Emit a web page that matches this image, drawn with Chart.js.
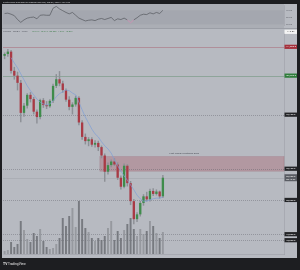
<!DOCTYPE html>
<html>
<head>
<meta charset="utf-8">
<script src="https://cdn.jsdelivr.net/npm/chart.js@4.4.1/dist/chart.umd.min.js"></script>
<style>
  html, body { margin: 0; padding: 0; background: #1d1e21; }
  #wrap { position: relative; width: 300px; height: 270px; overflow: hidden; }
  #rsiBox { position: absolute; left: 0; top: 0; width: 300px; height: 29px; }
  #mainBox { position: absolute; left: 0; top: 29px; width: 300px; height: 241px; }
</style>
</head>
<body>
<div id="wrap">
  <div id="rsiBox"><canvas id="rsiChart"></canvas></div>
  <div id="mainBox"><canvas id="priceChart"></canvas></div>
</div>
<script>
// 12h candles
const candleOpen = [109500,109800,110200,107000,106200,105000,100000,101200,103000,102300,
  100200,99300,102100,101300,101100,102000,104500,105600,104900,103800,
  102200,101000,101400,102500,98400,96000,95300,95600,94700,95000,
  94300,92900,90200,91300,91900,91400,89200,87700,91200,88300,
  85300,82300,83100,85000,86100,85600,87000,86500,86900,86100];
const candleHigh = [110000,110600,110400,107600,106800,105400,101600,103200,103400,102600,
  100500,102300,102400,101900,102200,104800,106400,106900,105300,104000,
  102700,101700,102800,102700,98700,96500,95900,95900,95400,95300,
  94500,93200,91700,92200,92400,91700,89500,91500,91400,88600,
  85600,83400,85300,86400,86800,87300,87400,87200,87000,89600];
const candleLow = [109000,109400,106600,105600,103800,98500,99400,100800,101800,99800,
  98300,99000,100900,100700,100900,101700,104200,104500,103400,101900,
  100500,99800,101100,98000,95600,94800,94500,94400,94300,93700,
  92500,88600,89800,91000,91200,88900,87300,87500,87800,84700,
  81500,81900,82800,84600,85300,85300,86200,86300,85800,85900];
const candleClose = [109800,110200,107000,106200,105000,100000,101200,103000,102300,100200,
  99300,102100,101300,101100,102000,104500,105600,104900,103800,102200,
  101000,101400,102500,98400,96000,95300,95600,94700,95000,94300,
  92900,90200,91300,91900,91400,89200,87700,91200,88300,85300,
  82300,83100,85000,86100,85600,87000,86500,86900,86100,89200];
const volume = [3,4,12,7,10,33,24,15,12,21,
  18,25,13,7,5,6,10,16,36,28,
  38,46,27,53,35,26,22,16,13,16,
  14,18,26,33,14,23,16,24,30,36,
  25,18,25,20,23,33,28,21,16,22];
const sma = [null,null,109200,108300,107500,106500,105500,104500,103700,103000,
  102300,101800,101500,101300,101500,102000,102700,103200,103500,103800,
  103700,103300,103000,101800,100500,99300,98300,97300,96500,96000,
  95200,94500,94000,93300,92200,91200,90300,89500,88800,88000,
  87200,86300,85700,85300,85300,85500,85700,85800,85800,86000];
const rsi = [61,62,59,55,44,36,43,48,50,51,
  46,56,57,56,56,76,81,74,69,64,
  60,64,56,48,44,40,42,43,41,45,
  47,44,47,50,41,46,44,48,43,35,
  43,49,56,59,58,63,60,64,61,70];
const futureSlots = 37;
const xTickLabels = ['Feb','3','5','7','9','11','13','15','17','19','21','23','25','27','Mar','3','5','7','9','11','13'];
const rsiTicks = [30, 50, 70];
const keyLevels = [111000, 106200, 99700, 90700, 85500, 79800, 78800];
const topMarker = 113500;
const zoneTop = 92700, zoneBottom = 90300, zoneStart = 30;
const zoneText = 'First crucial resistance zone';

const UP = '#3f8c4b', DOWN = '#a93a45';
const slots = candleOpen.length + futureSlots;
const slotLabels = Array.from({ length: slots }, (_, i) => i);
const isUp = candleOpen.map((o, i) => candleClose[i] >= o);
const fmt = v => v.toLocaleString('en-US', { minimumFractionDigits: 1, maximumFractionDigits: 1 });

function box(ctx, x, y, w, h, bg, lines, fg) {
  ctx.fillStyle = bg;
  ctx.fillRect(x, y - h / 2, w, h);
  ctx.fillStyle = fg;
  ctx.font = '2.4px Roboto';
  ctx.textAlign = 'center';
  ctx.textBaseline = 'middle';
  const step = h / lines.length;
  lines.forEach((t, k) => ctx.fillText(t, x + w / 2, y - h / 2 + step * (k + 0.5)));
}

const mainDecor = {
  id: 'mainDecor',
  beforeDraw(chart) {
    const ctx = chart.ctx;
    ctx.save();
    ctx.fillStyle = '#1d1e21';
    ctx.fillRect(0, 0, chart.width, chart.height);
    ctx.fillStyle = '#b7bac1';
    ctx.fillRect(2, 0, 295, 229);
    ctx.font = '2.4px Roboto';
    ctx.textBaseline = 'middle';
    ctx.fillStyle = '#5b5e66';
    ctx.fillText('Volume · SMA 9 · close', 3, 2.6);
    ctx.fillStyle = '#3f7d4a';
    ctx.fillText('46.21K  46.21K  89.20K  1.07K  12.07K', 32, 2.6);
    ctx.fillStyle = '#e8e8e8';
    ctx.font = 'bold 3.4px Roboto';
    ctx.fillText('TV', 3, 235);
    ctx.font = '3.2px Roboto';
    ctx.fillText('TradingView', 8, 235);
    ctx.restore();
  },
  beforeDatasetsDraw(chart) {
    const { ctx, chartArea: a, scales: { x, y } } = chart;
    const half = (x.getPixelForValue(1) - x.getPixelForValue(0)) / 2;
    ctx.save();
    // resistance zone
    const zt = y.getPixelForValue(zoneTop), zb = y.getPixelForValue(zoneBottom);
    const zx = x.getPixelForValue(zoneStart) - half;
    ctx.fillStyle = 'rgba(170, 92, 106, 0.36)';
    ctx.fillRect(zx, zt, a.right - zx, zb - zt);
    ctx.strokeStyle = 'rgba(150, 70, 85, 0.4)';
    ctx.lineWidth = 0.5;
    ctx.strokeRect(zx, zt, a.right - zx, zb - zt);
    ctx.fillStyle = '#4c4f57';
    ctx.font = '2.4px Roboto';
    ctx.textBaseline = 'bottom';
    ctx.fillText(zoneText, x.getPixelForValue(51), zt - 2);
    // key levels
    keyLevels.forEach((v, i) => {
      const py = Math.round(y.getPixelForValue(v)) + 0.5;
      ctx.beginPath();
      if (i === 0) { ctx.strokeStyle = 'rgba(165, 80, 95, 0.5)'; ctx.setLineDash([]); ctx.lineWidth = 0.8; }
      else if (i === 1) { ctx.strokeStyle = 'rgba(80, 135, 95, 0.5)'; ctx.setLineDash([]); ctx.lineWidth = 0.8; }
      else { ctx.strokeStyle = 'rgba(85, 88, 96, 0.75)'; ctx.setLineDash([1, 1]); ctx.lineWidth = 0.5; }
      ctx.moveTo(a.left, py);
      ctx.lineTo(a.right, py);
      ctx.stroke();
    });
    // last price line
    const last = candleClose[candleClose.length - 1];
    const ly = Math.round(y.getPixelForValue(last)) + 0.5;
    ctx.setLineDash([]);
    ctx.strokeStyle = 'rgba(150, 153, 160, 0.7)';
    ctx.lineWidth = 0.5;
    ctx.beginPath();
    ctx.moveTo(a.left, ly);
    ctx.lineTo(a.right, ly);
    ctx.stroke();
    ctx.restore();
  },
  afterDraw(chart) {
    const { ctx, chartArea: a, scales: { y } } = chart;
    const bx = a.right + 0.5, bw = 12.5;
    const colors = ['#a5303b', '#2f7d3b', '#232427', '#232427', '#232427', '#232427', '#232427'];
    ctx.save();
    keyLevels.forEach((v, i) => box(ctx, bx, y.getPixelForValue(v), bw, 4.2, colors[i], [fmt(v)], '#f2f2f2'));
    box(ctx, bx, y.getPixelForValue(topMarker), bw, 4.2, '#f4f4f4', ['113.5K'], '#333');
    const last = candleClose[candleClose.length - 1];
    box(ctx, bx, y.getPixelForValue(last), bw, 7, '#5a5d64', [fmt(last), '05:12:33'], '#f2f2f2');
    ctx.restore();
  }
};

new Chart(document.getElementById('priceChart'), {
  type: 'bar',
  data: {
    labels: slotLabels,
    datasets: [
      {
        type: 'line', data: sma, borderColor: '#7f9fd6', borderWidth: 0.7,
        pointRadius: 0, yAxisID: 'y', order: 1
      },
      {
        data: candleOpen.map((o, i) => [o, candleClose[i]]),
        backgroundColor: isUp.map(u => u ? UP : DOWN),
        barPercentage: 0.72, categoryPercentage: 1, grouped: false, yAxisID: 'y', order: 2
      },
      {
        data: candleLow.map((l, i) => [l, candleHigh[i]]),
        backgroundColor: '#8d9096', barThickness: 0.8, grouped: false, yAxisID: 'y', order: 3
      },
      {
        data: volume,
        backgroundColor: isUp.map(u => u ? 'rgba(145, 147, 153, 0.85)' : 'rgba(108, 110, 116, 0.85)'),
        barPercentage: 0.6, categoryPercentage: 1, grouped: false, yAxisID: 'yVol', order: 4
      }
    ]
  },
  options: {
    responsive: true,
    maintainAspectRatio: false,
    animation: false,
    events: [],
    layout: { padding: { left: 3, top: 4, right: 3, bottom: 12 } },
    plugins: { legend: { display: false }, tooltip: { enabled: false } },
    scales: {
      x: {
        grid: { display: false },
        border: { display: true, color: '#9da0a7', width: 0.6 },
        ticks: {
          autoSkip: false, maxRotation: 0, padding: 0.5,
          color: '#5d6068', font: { size: 2.6, family: 'Roboto' },
          callback: (v, i) => (i >= 2 && (i - 2) % 4 === 0 && xTickLabels[(i - 2) / 4]) || ''
        },
        afterFit: s => { s.height = 4; }
      },
      y: {
        position: 'right',
        min: 76500, max: 113300,
        grid: { display: false, drawTicks: false },
        border: { display: true, color: '#9da0a7', width: 0.6 },
        ticks: {
          stepSize: 1000, maxTicksLimit: 40, padding: 1.5,
          color: '#686b72', font: { size: 2.4, family: 'Roboto' },
          callback: v => fmt(v)
        },
        afterBuildTicks: s => { s.ticks = s.ticks.filter(t => t.value % 1000 === 0); },
        afterFit: s => { s.width = 13; }
      },
      yVol: { display: false, min: 0, max: 221 }
    }
  },
  plugins: [mainDecor]
});

const rsiDecor = {
  id: 'rsiDecor',
  beforeDraw(chart) {
    const { ctx, chartArea: a, scales: { y } } = chart;
    ctx.save();
    ctx.fillStyle = '#1d1e21';
    ctx.fillRect(0, 0, chart.width, chart.height);
    ctx.fillStyle = '#b7bac1';
    ctx.fillRect(2, 4, 295, 25);
    ctx.fillStyle = '#abaeb5';
    ctx.fillRect(2, 4, a.right - 2, 24);
    ctx.fillStyle = 'rgba(60, 60, 80, 0.06)';
    const t = y.getPixelForValue(70), b = y.getPixelForValue(30);
    ctx.fillRect(a.left, t, a.right - a.left, b - t);
    ctx.strokeStyle = '#8f929a';
    ctx.lineWidth = 0.8;
    ctx.beginPath();
    ctx.moveTo(2, 28.6);
    ctx.lineTo(297, 28.6);
    ctx.stroke();
    ctx.fillStyle = '#cfd0d3';
    ctx.font = '2.2px Roboto';
    ctx.textBaseline = 'middle';
    ctx.fillText('CryptoWhale published on TradingView.com, Mar 02, 2025 14:22 UTC', 3, 2);
    ctx.restore();
  }
};

new Chart(document.getElementById('rsiChart'), {
  type: 'line',
  data: {
    labels: slotLabels,
    datasets: [{
      data: rsi, borderColor: '#55575d', borderWidth: 0.7, pointRadius: 0,
      segment: { borderColor: c => (c.p0.parsed.y < 35.5 || c.p1.parsed.y < 35.5) ? '#d889b5' : undefined }
    }]
  },
  options: {
    responsive: true,
    maintainAspectRatio: false,
    animation: false,
    events: [],
    layout: { padding: { left: 3, top: 5, right: 3, bottom: 1 } },
    plugins: { legend: { display: false }, tooltip: { enabled: false } },
    scales: {
      x: { display: false, offset: true },
      y: {
        position: 'right',
        min: 27, max: 85,
        grid: { display: false, drawTicks: false },
        border: { display: true, color: '#9da0a7', width: 0.6 },
        ticks: {
          padding: 2, color: '#686b72', font: { size: 2.4, family: 'Roboto' },
          callback: v => v.toFixed(2)
        },
        afterBuildTicks: s => { s.ticks = rsiTicks.map(v => ({ value: v })); },
        afterFit: s => { s.width = 13; }
      }
    }
  },
  plugins: [rsiDecor]
});
</script>
</body>
</html>
